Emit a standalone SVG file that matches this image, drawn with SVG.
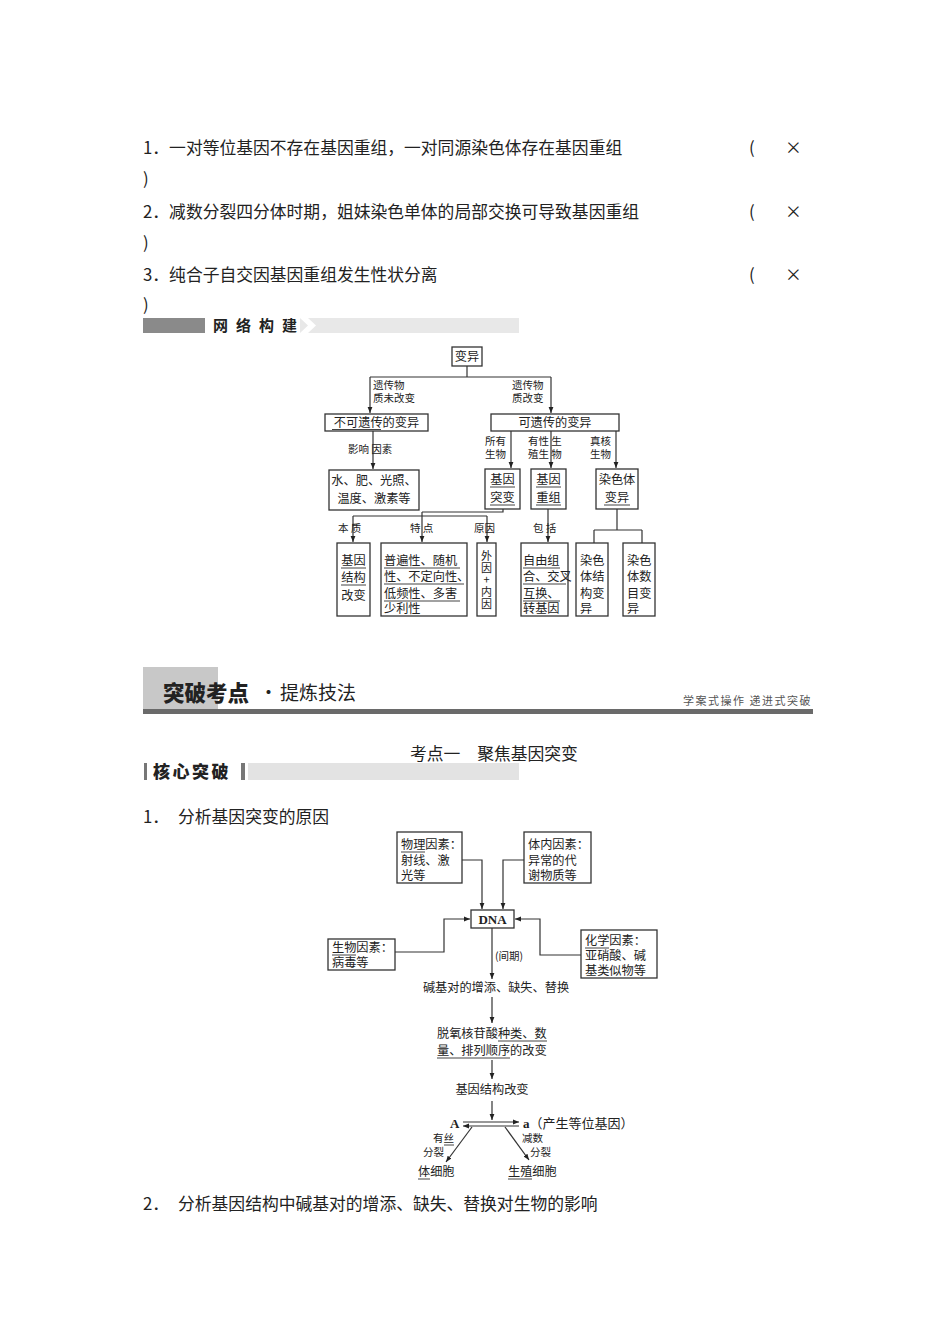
<svg xmlns="http://www.w3.org/2000/svg" width="950" height="1344" viewBox="0 0 950 1344">
<style>
text{font-family:"Noto Sans CJK SC","Noto Sans",sans-serif;fill:#222}
.body{font-size:16.8px}
.d{font-size:12.2px}
.s{font-size:10.5px}
.m{text-anchor:middle}
.lat{font-family:"Liberation Serif",serif;font-weight:bold}
.box{fill:#fff;stroke:#333;stroke-width:1.3}
.ln{fill:none;stroke:#333;stroke-width:1.2}
.ul{stroke:#444;stroke-width:1}
.ar{fill:none;stroke:#333;stroke-width:1.2;marker-end:url(#ah)}
</style>
<defs>
<marker id="ah" viewBox="0 0 10 10" refX="10" refY="5" markerWidth="6" markerHeight="6" orient="auto" markerUnits="userSpaceOnUse"><path d="M0,1 L10,5 L0,9 z" fill="#222"/></marker>
</defs>
<rect width="950" height="1344" fill="#fff"/>

<g id="judgements">
<text class="body" x="143" y="154">1．一对等位基因不存在基因重组，一对同源染色体存在基因重组</text>
<text class="body" x="749" y="154">(</text><text class="body" x="785" y="154">×</text>
<text class="body" x="143" y="185">)</text>
<text class="body" x="143" y="218">2．减数分裂四分体时期，姐妹染色单体的局部交换可导致基因重组</text>
<text class="body" x="749" y="218">(</text><text class="body" x="785" y="218">×</text>
<text class="body" x="143" y="249">)</text>
<text class="body" x="143" y="281">3．纯合子自交因基因重组发生性状分离</text>
<text class="body" x="749" y="281">(</text><text class="body" x="785" y="281">×</text>
<text class="body" x="143" y="311">)</text>
</g>

<g id="banner-network">
<rect x="143" y="318" width="62" height="15" fill="#8a8a8a"/>
<rect x="300" y="318" width="219" height="15" fill="#e8e8e8"/>
<polygon points="300,318 308,318 316,325.5 308,333 300,333 308,325.5" fill="#fff"/>
<text x="213" y="331" style="font-size:15px;font-weight:bold;letter-spacing:8px">网络构建</text>
</g>

<g id="net-connectors">
<path class="ln" d="M467,366 V377 M370,377 H551"/>
<path class="ar" d="M370,377 V413"/>
<path class="ar" d="M551,377 V413"/>
<path class="ar" d="M373,431 V469"/>
<path class="ar" d="M511,431 V468"/>
<path class="ar" d="M551,431 V468"/>
<path class="ar" d="M616,431 V468"/>
<path class="ln" d="M503,509 V512 H422"/>
<path class="ar" d="M422,512 V542"/>
<path class="ln" d="M353,516 H487"/>
<path class="ar" d="M353,516 V542"/>
<path class="ar" d="M487,516 V542"/>
<path class="ar" d="M548,509 V542"/>
<path class="ln" d="M617,509 V530 M594,530 H642 M594,530 V543 M642,530 V543"/>
</g>
<g id="net-labels">
<text class="s" x="373" y="389">遗传物<tspan x="373" dy="13">质未改变</tspan></text>
<text class="s" x="512" y="389">遗传物<tspan x="512" dy="13">质改变</tspan></text>
<text class="s" x="348" y="453">影响 因素</text>
<text class="s" x="485" y="445">所有<tspan x="485" dy="13">生物</tspan></text>
<text class="s" x="528" y="445">有性 生<tspan x="528" dy="13">殖生 物</tspan></text>
<text class="s" x="590" y="445">真核<tspan x="590" dy="13">生物</tspan></text>
<text class="s" x="338" y="532">本 质</text>
<text class="s" x="410" y="532">特 点</text>
<text class="s" x="474" y="532">原因</text>
<text class="s" x="533" y="532">包 括</text>
</g>

<g id="n-bianyi"><rect class="box" x="452" y="347" width="30" height="19"/><text class="d m" x="467" y="361">变异</text></g>
<g id="n-bukeyichuan"><rect class="box" x="325" y="414" width="103" height="17"/><text class="d m" x="376.5" y="427">不可遗传的变异</text><line class="ul" x1="332" y1="429.5" x2="381" y2="429.5"/></g>
<g id="n-keyichuan"><rect class="box" x="491" y="414" width="128" height="17"/><text class="d m" x="555" y="427">可遗传的变异</text></g>
<g id="n-huanjing"><rect class="box" x="329" y="470" width="90" height="40"/><text class="d m" x="374" y="485">水、肥、光照、<tspan x="374" dy="18">温度、激素等</tspan></text></g>
<g id="n-tubian"><rect class="box" x="485" y="469" width="35" height="40"/><text class="d m" x="502.5" y="484">基因<tspan x="502.5" dy="18">突变</tspan></text><line class="ul" x1="490" y1="487" x2="515" y2="487"/><line class="ul" x1="490" y1="505" x2="515" y2="505"/></g>
<g id="n-chongzu"><rect class="box" x="531" y="469" width="35" height="40"/><text class="d m" x="548.5" y="484">基因<tspan x="548.5" dy="18">重组</tspan></text><line class="ul" x1="536" y1="487" x2="561" y2="487"/><line class="ul" x1="536" y1="505" x2="561" y2="505"/></g>
<g id="n-ranseti"><rect class="box" x="596" y="469" width="42" height="40"/><text class="d m" x="617" y="484">染色体<tspan x="617" dy="18">变异</tspan></text><line class="ul" x1="604" y1="505" x2="630" y2="505"/></g>
<g id="n-benzhi"><rect class="box" x="337" y="543" width="33" height="73"/><text class="d m" x="353.5" y="565">基因<tspan x="353.5" dy="17">结构</tspan><tspan x="353.5" dy="18">改变</tspan></text><line class="ul" x1="341" y1="568" x2="366" y2="568"/><line class="ul" x1="341" y1="585" x2="366" y2="585"/></g>
<g id="n-tedian"><rect class="box" x="381" y="543" width="86" height="73"/><text class="d" x="384" y="565">普遍性、随机<tspan x="384" dy="16">性、不定向性、</tspan><tspan x="384" dy="17">低频性、多害</tspan><tspan x="384" dy="15">少利性</tspan></text><line class="ul" x1="384" y1="568" x2="460" y2="568"/><line class="ul" x1="384" y1="584" x2="464" y2="584"/><line class="ul" x1="384" y1="601" x2="460" y2="601"/></g>
<g id="n-yuanyin"><rect class="box" x="477" y="543" width="19" height="73"/><text x="486.5" y="550" style="font-size:11px;writing-mode:vertical-rl;text-orientation:upright;letter-spacing:1.2px">外因+内因</text></g>
<g id="n-baokuo"><rect class="box" x="521" y="543" width="47" height="73"/><text class="d" x="523" y="565">自由组<tspan x="523" dy="16">合、交叉</tspan><tspan x="523" dy="17">互换、</tspan><tspan x="523" dy="15">转基因</tspan></text><line class="ul" x1="523" y1="568" x2="560" y2="568"/><line class="ul" x1="523" y1="584" x2="566" y2="584"/><line class="ul" x1="523" y1="601" x2="560" y2="601"/></g>
<g id="n-jiegou"><rect class="box" x="576" y="543" width="32" height="73"/><text class="d" x="580" y="565">染色<tspan x="580" dy="16">体结</tspan><tspan x="580" dy="17">构变</tspan><tspan x="580" dy="15">异</tspan></text></g>
<g id="n-shumu"><rect class="box" x="623" y="543" width="32" height="73"/><text class="d" x="627" y="565">染色<tspan x="627" dy="16">体数</tspan><tspan x="627" dy="17">目变</tspan><tspan x="627" dy="15">异</tspan></text></g>

<g id="banner-tupo">
<rect x="143" y="667" width="75" height="42" fill="#c8c8c8"/>
<text x="163" y="701" style="font-size:21.5px;font-weight:900">突破考点</text>
<text x="259" y="700" style="font-size:19px">·</text>
<text x="280" y="700" style="font-size:19px">提炼技法</text>
<rect x="143" y="709" width="670" height="5" fill="#6a6a6a"/>
<text x="812" y="705" style="font-size:11px;fill:#555;letter-spacing:1.5px;text-anchor:end">学案式操作  递进式突破</text>
</g>

<g id="heading">
<text class="body" x="410" y="760">考点一　聚焦基因突变</text>
<rect x="144" y="763" width="3" height="17" fill="#777"/>
<text x="153" y="778" style="font-size:17px;font-weight:900;letter-spacing:2.5px">核心突破</text>
<rect x="241" y="763" width="4" height="17" fill="#777"/>
<rect x="248" y="763" width="271" height="17" fill="#e3e3e3"/>
<text class="body" x="143" y="823">1．</text><text class="body" x="178" y="823">分析基因突变的原因</text>
</g>

<g id="mut-connectors">
<path class="ar" d="M462,860 H482 V909"/>
<path class="ar" d="M524,860 H503 V909"/>
<path class="ar" d="M395,952 H444 V919 H470"/>
<path class="ar" d="M581,955 H540 V919 H515"/>
<path class="ar" d="M492,928 V979"/>
<path class="ar" d="M492,997 V1023"/>
<path class="ar" d="M492,1060 V1079"/>
<path class="ar" d="M492,1101 V1120"/>
<path class="ar" d="M463,1122 H519"/>
<path class="ar" d="M519,1126 H463"/>
<path class="ar" d="M472,1127 L446,1162"/>
<path class="ar" d="M505,1127 L529,1160"/>
</g>
<g id="m-wuli"><rect class="box" x="397" y="832" width="65" height="51"/><text class="d" x="401" y="849">物理因素：<tspan x="401" dy="16">射线、激</tspan><tspan x="401" dy="15">光等</tspan></text><line class="ul" x1="401" y1="852" x2="425" y2="852"/></g>
<g id="m-tinei"><rect class="box" x="524" y="832" width="67" height="51"/><text class="d" x="528" y="849">体内因素：<tspan x="528" dy="16">异常的代</tspan><tspan x="528" dy="15">谢物质等</tspan></text></g>
<g id="m-dna"><rect class="box" x="471" y="910" width="43" height="18"/><text class="lat m" x="492.5" y="924" style="font-size:13px">DNA</text></g>
<g id="m-shengwu"><rect class="box" x="328" y="939" width="67" height="31"/><text class="d" x="332" y="952">生物因素：<tspan x="332" dy="15">病毒等</tspan></text><line class="ul" x1="332" y1="955" x2="356" y2="955"/></g>
<g id="m-huaxue"><rect class="box" x="581" y="930" width="76" height="48"/><text class="d" x="585" y="945">化学因素：<tspan x="585" dy="15">亚硝酸、碱</tspan><tspan x="585" dy="15">基类似物等</tspan></text><line class="ul" x1="585" y1="948" x2="609" y2="948"/></g>
<g id="m-labels">
<text class="s" x="495" y="960">(间期)</text>
<text class="d m" x="496" y="992">碱基对的增添、缺失、替换</text>
<text class="d" x="437" y="1038">脱氧核苷酸种类、数<tspan x="437" dy="17">量、排列顺序的改变</tspan></text>
<line class="ul" x1="498" y1="1041" x2="547" y2="1041"/>
<line class="ul" x1="437" y1="1058" x2="510" y2="1058"/>
<text class="d m" x="492" y="1094">基因结构改变</text>
<text class="lat" x="450" y="1128" style="font-size:13px">A</text>
<text x="523" y="1128" style="font-size:13px"><tspan class="lat">a</tspan>（产生等位基因）</text>
<text class="s" x="433" y="1142">有丝<tspan x="423" dy="14">分裂</tspan></text><line class="ul" x1="444" y1="1145" x2="454" y2="1145"/>
<text class="s" x="522" y="1142">减数<tspan x="530" dy="14">分裂</tspan></text>
<text class="d" x="418" y="1176">体细胞</text><line class="ul" x1="418" y1="1179" x2="430" y2="1179"/>
<text class="d" x="508" y="1176">生殖细胞</text><line class="ul" x1="508" y1="1179" x2="532" y2="1179"/>
</g>
<g id="footer">
<text class="body" x="143" y="1210">2．</text><text class="body" x="178" y="1210">分析基因结构中碱基对的增添、缺失、替换对生物的影响</text>
</g>
</svg>
